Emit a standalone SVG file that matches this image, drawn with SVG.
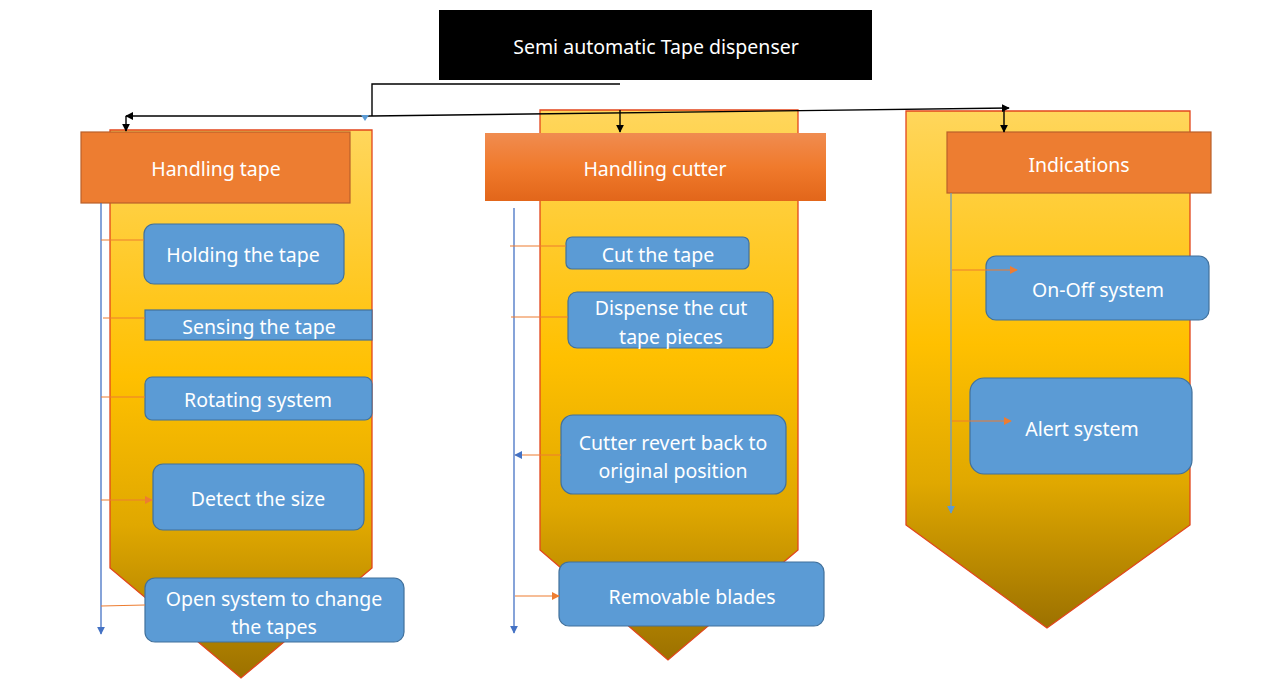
<svg xmlns="http://www.w3.org/2000/svg" width="1270" height="697" viewBox="0 0 1270 697">
<defs>
<linearGradient id="gold" x1="0" y1="0" x2="0" y2="1">
<stop offset="0" stop-color="#FFD65C"/>
<stop offset="0.45" stop-color="#FFC000"/>
<stop offset="0.72" stop-color="#E0A800"/>
<stop offset="1" stop-color="#9C7100"/>
</linearGradient>
<linearGradient id="hdr2" x1="0" y1="0" x2="0" y2="1">
<stop offset="0" stop-color="#F08C50"/>
<stop offset="0.5" stop-color="#F07A2C"/>
<stop offset="1" stop-color="#E2661A"/>
</linearGradient>
<marker id="ab" viewBox="0 0 10 10" refX="9" refY="5" markerWidth="8" markerHeight="8" markerUnits="userSpaceOnUse" orient="auto"><path d="M0,0 L10,5 L0,10 z" fill="#000"/></marker>
<marker id="ablue" viewBox="0 0 10 10" refX="9" refY="5" markerWidth="8" markerHeight="8" markerUnits="userSpaceOnUse" orient="auto"><path d="M0,0 L10,5 L0,10 z" fill="#4472C4"/></marker>
<marker id="ablue2" viewBox="0 0 10 10" refX="9" refY="5" markerWidth="8" markerHeight="8" markerUnits="userSpaceOnUse" orient="auto"><path d="M0,0 L10,5 L0,10 z" fill="#5B9BD5"/></marker>
<marker id="aor" viewBox="0 0 10 10" refX="9" refY="5" markerWidth="8" markerHeight="8" markerUnits="userSpaceOnUse" orient="auto"><path d="M0,0 L10,5 L0,10 z" fill="#ED7D31"/></marker>
</defs>
<style>
.col{fill:url(#gold);stroke:#E2451C;stroke-width:1.3}
.hdr{fill:#ED7D31;stroke:#B9602A;stroke-width:1.2}
.box{fill:#5B9BD5;stroke:#41719C;stroke-width:1.2}
.t{font-family:"Noto Sans","Open Sans",sans-serif;font-size:19.5px;fill:#FFFFFF;text-anchor:middle;dominant-baseline:central}
.k{stroke:#000;stroke-width:1.4;fill:none}
.bl{stroke:#4472C4;stroke-width:1.3;fill:none}
.bl2{stroke:#6A9BC8;stroke-width:1.3;fill:none}
.or{stroke:#ED7D31;stroke-width:1.2;fill:none}
</style>

<g id="col1"><polygon class="col" points="110,130 372,130 372,568 241,678 110,568"/></g>
<g id="col2"><polygon class="col" points="540,110 798,110 798,550 668,660 540,550"/></g>
<g id="col3"><polygon class="col" points="906,111 1190,111 1190,525 1047,628 906,525"/></g>

<g id="title"><rect x="439" y="10" width="433" height="70" fill="#000"/><text class="t" x="656" y="46" style="font-size:19.5px">Semi automatic Tape dispenser</text></g>

<g id="h1"><rect class="hdr" x="81" y="132" width="269" height="71"/><text class="t" x="216" y="168">Handling tape</text></g>
<g id="h2"><rect x="485" y="133" width="341" height="68" fill="url(#hdr2)"/><text class="t" x="655" y="168">Handling cutter</text></g>
<g id="h3"><rect class="hdr" x="947" y="132" width="264" height="61"/><text class="t" x="1079" y="164">Indications</text></g>

<g id="n1"><rect class="box" x="144" y="224" width="200" height="60" rx="10"/><text class="t" x="243" y="254">Holding the tape</text></g>
<g id="n2"><rect class="box" x="145" y="310" width="227" height="30"/><text class="t" x="259" y="326">Sensing the tape</text></g>
<g id="n3"><rect class="box" x="145" y="377" width="227" height="43" rx="7"/><text class="t" x="258" y="399">Rotating system</text></g>
<g id="n4"><rect class="box" x="153" y="464" width="211" height="66" rx="10"/><text class="t" x="258" y="498">Detect the size</text></g>
<g id="n5"><rect class="box" x="145" y="578" width="259" height="64" rx="10"/><text class="t" x="274" y="598">Open system to change</text><text class="t" x="274" y="626">the tapes</text></g>

<g id="n6"><rect class="box" x="566" y="237" width="183" height="32" rx="6"/><text class="t" x="658" y="254">Cut the tape</text></g>
<g id="n7"><rect class="box" x="568" y="292" width="205" height="56" rx="9"/><text class="t" x="671" y="307">Dispense the cut</text><text class="t" x="671" y="336">tape pieces</text></g>
<g id="n8"><rect class="box" x="561" y="415" width="225" height="79" rx="12"/><text class="t" x="673" y="442">Cutter revert back to</text><text class="t" x="673" y="470">original position</text></g>
<g id="n9"><rect class="box" x="559" y="562" width="265" height="64" rx="10"/><text class="t" x="692" y="596">Removable blades</text></g>

<g id="n10"><rect class="box" x="986" y="256" width="223" height="64" rx="10"/><text class="t" x="1098" y="289">On-Off system</text></g>
<g id="n11"><rect class="box" x="970" y="378" width="222" height="96" rx="14"/><text class="t" x="1082" y="428">Alert system</text></g>

<g id="connectors">
<polyline class="k" points="620,84 372,84 372,116"/>
<line class="k" x1="372" y1="116" x2="126" y2="116" marker-end="url(#ab)"/>
<line class="k" x1="126" y1="116" x2="126" y2="131" marker-end="url(#ab)"/>
<path d="M361,115 L369,115 L365,121 z" fill="#5B9BD5"/>
<line class="k" x1="372" y1="116" x2="1009" y2="108" marker-end="url(#ab)"/>
<line class="k" x1="620" y1="110" x2="620" y2="132" marker-end="url(#ab)"/>
<line class="k" x1="1004" y1="108" x2="1004" y2="132" marker-end="url(#ab)"/>
<line class="bl" x1="101" y1="203" x2="101" y2="634" marker-end="url(#ablue)"/>
<line class="or" x1="101" y1="240" x2="144" y2="240"/>
<line class="or" x1="103" y1="318" x2="145" y2="318"/>
<line class="or" x1="101" y1="397" x2="145" y2="397"/>
<line class="or" x1="101" y1="500" x2="152" y2="500" marker-end="url(#aor)"/>
<line class="or" x1="101" y1="606" x2="145" y2="605"/>
<line class="bl" x1="514" y1="208" x2="514" y2="633" marker-end="url(#ablue)"/>
<line class="or" x1="510" y1="246" x2="566" y2="246"/>
<line class="or" x1="511" y1="317" x2="568" y2="317"/>
<line class="or" x1="561" y1="455" x2="515" y2="455" marker-end="url(#ablue)"/>
<line class="or" x1="515" y1="596" x2="559" y2="596" marker-end="url(#aor)"/>
<line class="bl2" x1="951" y1="193" x2="951" y2="513" marker-end="url(#ablue2)"/>
<line class="or" x1="952" y1="270" x2="1017" y2="270" marker-end="url(#aor)"/>
<line class="or" x1="952" y1="421" x2="1011" y2="421" marker-end="url(#aor)"/>
</g>
</svg>
